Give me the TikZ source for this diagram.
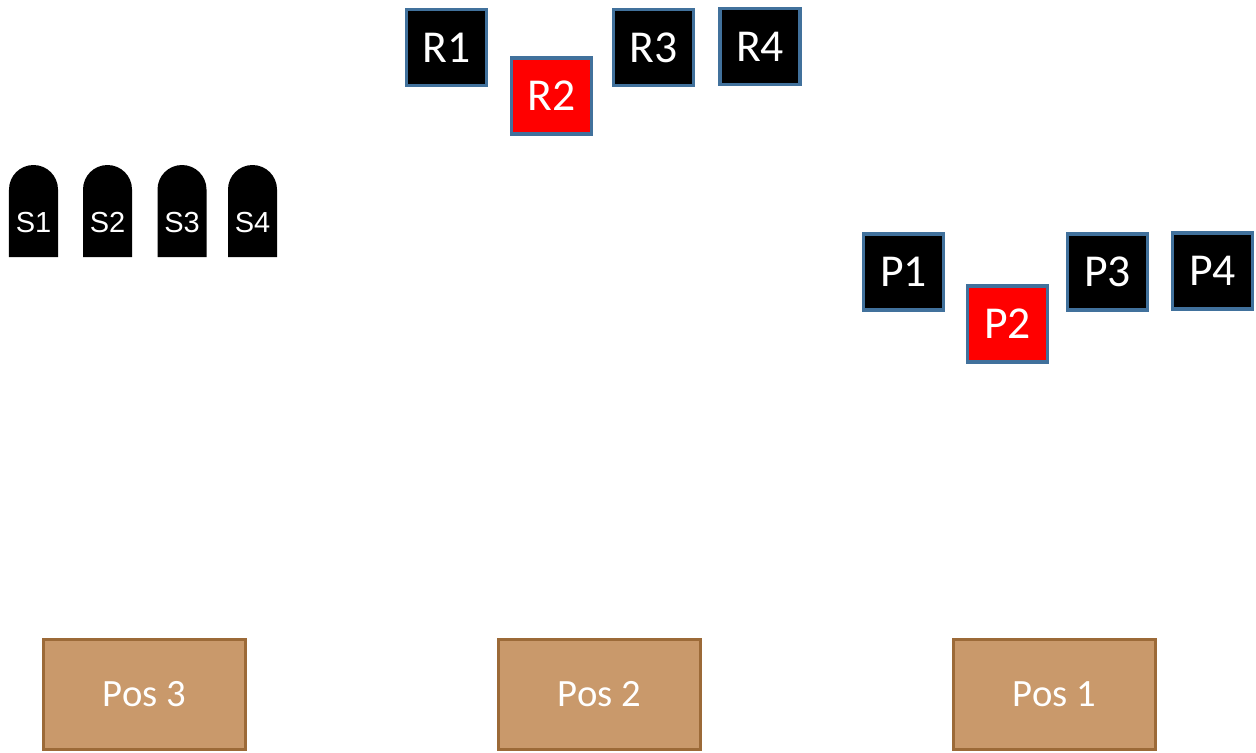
\documentclass[tikz,border=0pt]{standalone}
\usepackage{fontspec}
\setmainfont{Carlito}
\newfontfamily\arialfont{Liberation Sans}
\usetikzlibrary{positioning}
\definecolor{cedge}{HTML}{41719C}
\definecolor{cred}{HTML}{FF0000}
\definecolor{ctan}{HTML}{C9996B}
\definecolor{ctanedge}{HTML}{9C6A38}
\tikzset{
  every picture/.style={line width=1.8pt},
  slot/.style={draw=cedge, fill=#1, text=white, minimum width=1.6cm, minimum height=1.52cm, inner sep=0pt, font=\fontsize{26}{28}\selectfont},
  slot/.default=black,
  posbox/.style={draw=ctanedge, fill=ctan, text=white, minimum width=4.04cm, minimum height=2.2cm, font=\fontsize{22}{24}\selectfont},
  stone/.style={text=white, inner sep=0pt, font=\arialfont\fontsize{16.5}{18}\selectfont},
}
\begin{document}
\begin{tikzpicture}
  \useasboundingbox (0,0) rectangle (25.12,-15.04);
  % top row
  \foreach \x/\y/\col [count=\i] in {8.93/-0.95/black, 11.03/-1.92/cred, 13.07/-0.95/black, 15.20/-0.93/black} {
    \node[slot=\col] (r\i) at (\x, \y) {R\i};
  }
  % right row
  \foreach \x/\y/\col [count=\i] in {18.07/-5.44/black, 20.15/-6.48/cred, 22.15/-5.44/black, 24.25/-5.42/black} {
    \node[slot=\col] (p\i) at (\x, \y) {P\i};
  }
  % stones on the left
  \foreach \x [count=\i] in {0.67, 2.15, 3.64, 5.05} {
    \fill (\x-0.49, -5.14) -- (\x-0.49, -3.79) arc (180:0:0.49) -- (\x+0.49, -5.14) -- cycle;
    \node[stone] (s\i) at (\x, -4.45) {S\i};
  }
  % positions
  \foreach \x/\n in {2.89/3, 11.99/2, 21.09/1} {
    \node[posbox] (pos\n) at (\x, -13.89) {Pos \n};
  }
\end{tikzpicture}
\end{document}
